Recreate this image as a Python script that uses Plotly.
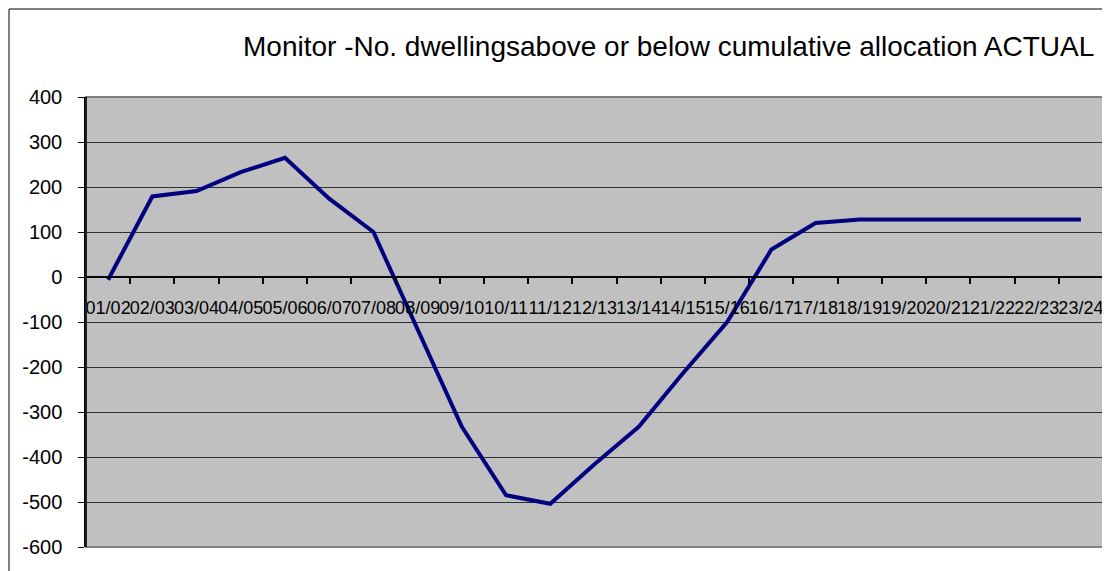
import plotly.graph_objects as go

# ---- data ----
categories = ["01/02", "02/03", "03/04", "04/05", "05/06", "06/07", "07/08", "08/09",
              "09/10", "10/11", "11/12", "12/13", "13/14", "14/15", "15/16", "16/17",
              "17/18", "18/19", "19/20", "20/21", "21/22", "22/23", "23/24"]
values = [-6, 179, 191, 233, 265, 174, 100, -117, -333, -485, -504, -416, -333, -214,
          -100, 61, 120, 128, 128, 128, 128, 128, 128]
y_ticks = [400, 300, 200, 100, 0, -100, -200, -300, -400, -500, -600]
title_text = "Monitor -No. dwellingsabove or below cumulative allocation ACTUAL"

# ---- layout geometry (screen pixels; page body has an 8px margin) ----
OFF = 8
W, H = 1110 - OFF, 571 - OFF
PL, PR, PT, PB = 86 - OFF, 1103 - OFF, 97 - OFF, 547 - OFF
pw, ph = PR - PL, PB - PT

def px(x):
    return (x - OFF - PL) / pw

def py(y):
    return (PB - (y - OFF)) / ph

FONT = "Liberation Sans, Arial, sans-serif"

fig = go.Figure()
fig.add_trace(go.Scatter(
    x=categories, y=values, mode="lines",
    line=dict(color="#000080", width=4),
    hoverinfo="skip", showlegend=False,
))

fig.update_layout(
    width=W, height=H,
    margin=dict(l=PL, r=W - PR, t=PT, b=H - PB, pad=0),
    paper_bgcolor="white",
    plot_bgcolor="#c0c0c0",
    font=dict(family=FONT, color="black"),
    showlegend=False,
)

fig.update_xaxes(
    type="category",
    range=[-0.5, len(categories) - 0.5],
    anchor="free", position=0.6,
    showgrid=False, zeroline=False,
    showline=True, linecolor="black", linewidth=2,
    ticks="outside", ticklen=6, tickcolor="black", tickwidth=2,
    tickson="boundaries",
    tickmode="linear", tick0=0, dtick=1,
    tickangle=0,
    tickfont=dict(size=18, family=FONT, color="black"),
    ticklabelstandoff=14,
)

fig.update_yaxes(
    range=[-600, 400],
    tickmode="array", tickvals=y_ticks, ticktext=[str(v) for v in y_ticks],
    showgrid=True, gridcolor="#303030", gridwidth=1,
    zeroline=False,
    showline=True, linecolor="black", linewidth=1.5,
    ticks="outside", ticklen=6, tickcolor="black", tickwidth=1,
    tickfont=dict(size=20, family=FONT, color="black"),
    ticklabelstandoff=12,
)

shapes = [
    # plot-area border (grey)
    dict(type="rect", xref="paper", yref="paper", x0=0, x1=1, y0=0, y1=1,
         line=dict(color="#808080", width=2), fillcolor="rgba(0,0,0,0)", layer="above"),
    # left axis line redrawn black
    dict(type="line", xref="paper", yref="paper", x0=0, x1=0, y0=0, y1=1,
         line=dict(color="black", width=1.5), layer="above"),
    # outer chart border, extending past the picture on right and bottom
    dict(type="rect", xref="paper", yref="paper",
         x0=px(9), x1=px(1130), y0=py(590), y1=py(9),
         line=dict(color="black", width=1), fillcolor="rgba(0,0,0,0)", layer="below"),
]
fig.update_layout(shapes=shapes)

fig.add_annotation(
    text=title_text, xref="paper", yref="paper",
    x=px(668), y=py(46), xanchor="center", yanchor="middle",
    showarrow=False, font=dict(size=28, family=FONT, color="black"),
)

fig.write_html("out.html")
